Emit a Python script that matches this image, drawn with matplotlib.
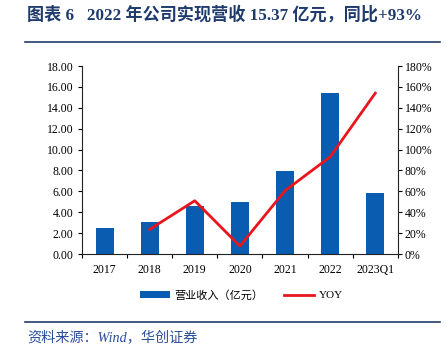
import numpy as np
import matplotlib
matplotlib.use('Agg')
import matplotlib.pyplot as plt
from matplotlib.ticker import FuncFormatter

years = ['2017', '2018', '2019', '2020', '2021', '2022', '2023Q1']
revenue = [2.46, 3.04, 4.60, 4.95, 7.95, 15.37, 5.81]
yoy = [None, 23.6, 51.0, 7.6, 60.6, 93.0, 154.0]

plt.rcParams['font.family'] = ['Liberation Serif', 'Noto Sans CJK SC']
plt.rcParams['axes.unicode_minus'] = False

bar_color = '#0A5CB0'
line_color = '#E8151D'
navy = '#1F3B6E'

fig = plt.figure(figsize=(4.47, 3.56), dpi=100)
ax = fig.add_axes([0.1834, 0.2865, 0.7066, 0.5281])
ax2 = ax.twinx()

x = np.arange(len(years))
bars = ax.bar(x, revenue, width=0.4, color=bar_color, label='营业收入（亿元）')
yx = [i for i, v in enumerate(yoy) if v is not None]
yv = [v for v in yoy if v is not None]
line, = ax2.plot(yx, yv, color=line_color, lw=2, label='YOY')

ax.set_xlim(-0.5, len(years) - 0.5)
ax.set_ylim(0, 18)
ax.set_yticks(np.arange(0, 18.01, 2))
ax.yaxis.set_major_formatter(FuncFormatter(lambda v, p: f'{v:.2f}'))
ax2.set_ylim(0, 180)
ax2.set_yticks(np.arange(0, 181, 20))
ax2.yaxis.set_major_formatter(FuncFormatter(lambda v, p: f'{int(v)}%'))

ax.set_xticks(x)
ax.set_xticklabels(years)
ax.set_xticks(np.arange(-0.5, len(years), 1), minor=True)
ax.tick_params(axis='x', which='major', length=0, pad=7, labelsize=8.5)
ax.tick_params(axis='x', which='minor', length=3, direction='out', width=0.8)
ax.tick_params(axis='y', length=3, width=0.8, labelsize=8.5, pad=3)
ax2.tick_params(axis='y', length=3, width=0.8, labelsize=8.5, pad=2)

for a in (ax, ax2):
    a.spines['top'].set_visible(False)
    for s in ('left', 'right', 'bottom'):
        a.spines[s].set_color('#222222')
        a.spines[s].set_linewidth(0.8)
ax.spines['right'].set_visible(False)
ax2.spines['left'].set_visible(False)
ax2.spines['bottom'].set_visible(False)

fig.legend([bars, line], ['营业收入（亿元）', 'YOY'], loc='center',
           bbox_to_anchor=(0.54, 0.171), ncol=2, frameon=False, fontsize=8,
           handlelength=2.7, handleheight=0.5, columnspacing=1.9,
           handletextpad=0.4)

fig.text(0.06, 0.958, '图表 6   2022 年公司实现营收 15.37 亿元，同比+93%',
         fontsize=12.3, fontweight='bold', color=navy, va='center', ha='left')
fig.add_artist(plt.Line2D([0.056, 0.984], [0.882, 0.882], color=navy, lw=1.2))
fig.add_artist(plt.Line2D([0.056, 0.984], [0.0955, 0.0955], color=navy, lw=1.2))
fig.text(0.06, 0.05, '资料来源：Wind，华创证券', fontsize=10.2, style='italic',
         color='#2A4F9A', va='center', ha='left')

fig.savefig('out.png', dpi=100)
